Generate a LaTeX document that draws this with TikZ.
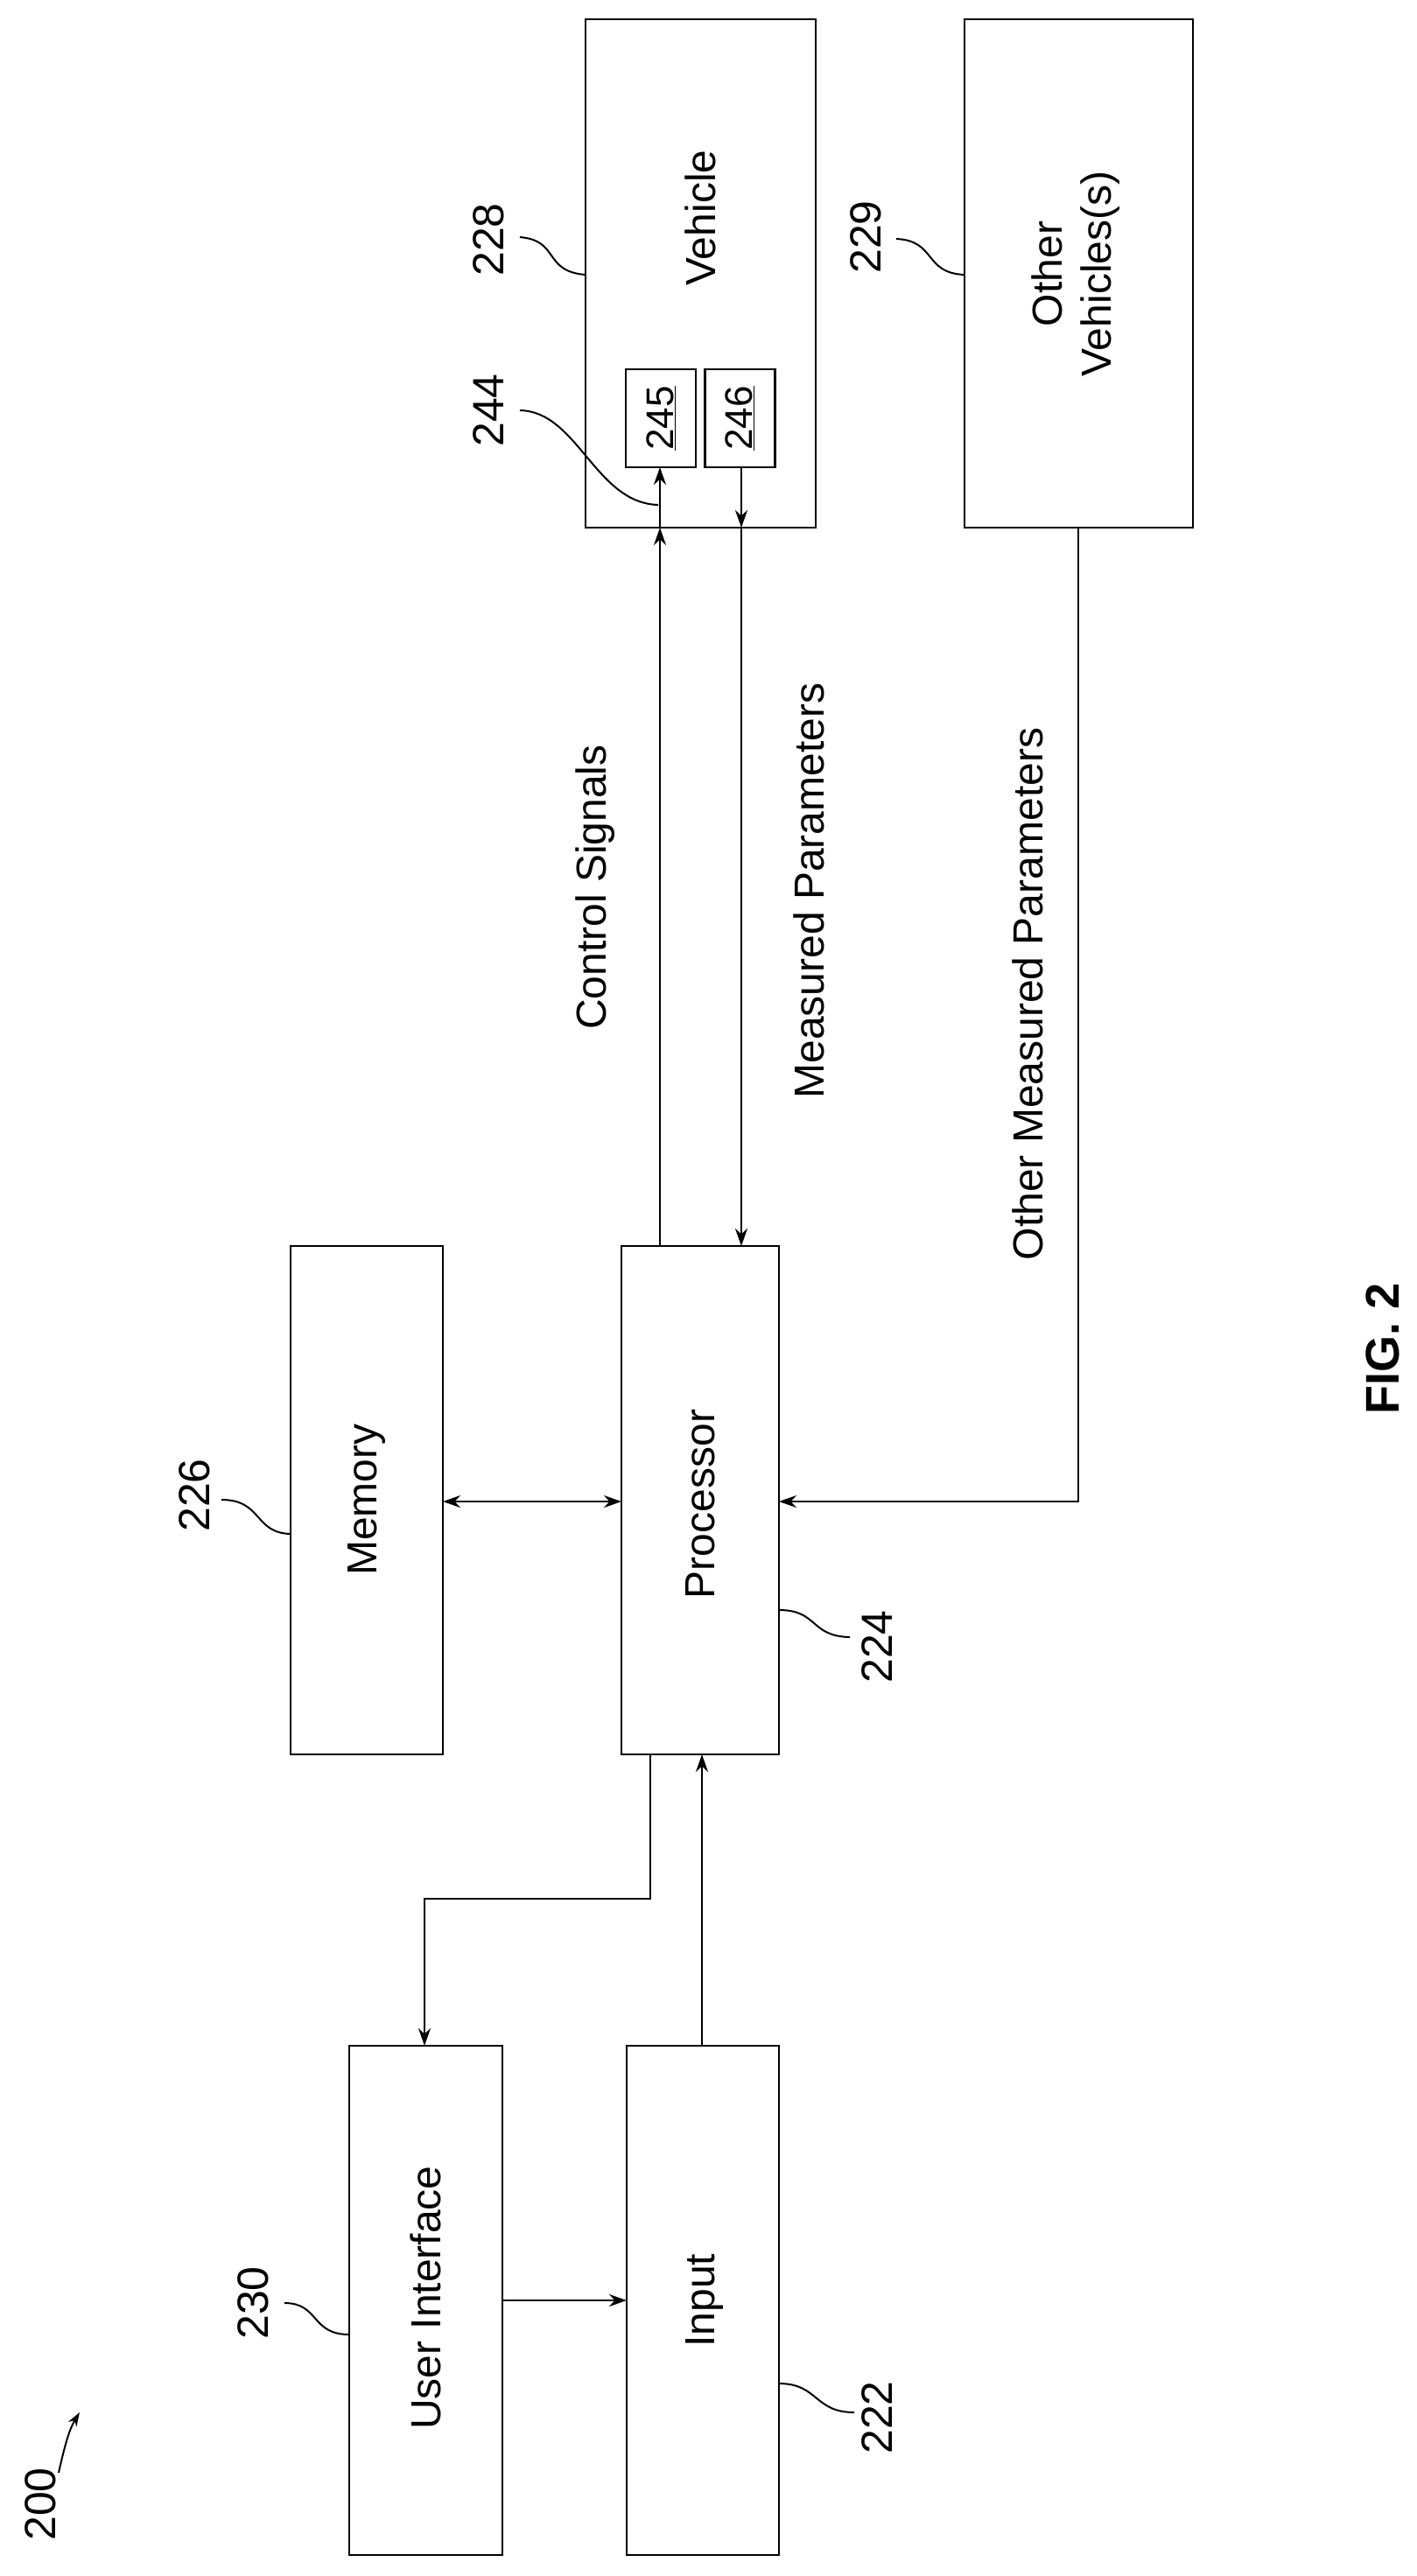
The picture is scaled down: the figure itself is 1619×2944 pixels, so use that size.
\documentclass[tikz,border=0pt]{standalone}
\usepackage{fontspec}
\setmainfont{Liberation Sans}
\usetikzlibrary{arrows.meta}
\begin{document}
\begin{tikzpicture}[x=1pt,y=-1pt,
  box/.style={draw,line width=2.5pt,inner sep=0pt,anchor=center},
  txt/.style={rotate=90,font=\fontsize{48}{56}\selectfont,align=center,inner sep=0pt},
  num/.style={rotate=90,font=\fontsize{50}{56}\selectfont,inner sep=0pt},
  ln/.style={line width=2.5pt},
  ar/.style={ln,-{Stealth[length=20pt,width=14pt]}},
  lead/.style={line width=2pt}]
\useasboundingbox (0,0) rectangle (1619,2944);
% boxes
\node[box,minimum width=263pt,minimum height=581pt] (veh) at (800.5,312.5) {};
\node[box,minimum width=261pt,minimum height=581pt] (oth) at (1232.5,312.5) {};
\node[box,minimum width=80pt,minimum height=112pt] (b245) at (755,478) {};
\node[box,minimum width=80pt,minimum height=112pt] (b246) at (845.5,478) {};
\node[box,minimum width=180pt,minimum height=581pt] (proc) at (800,1714.5) {};
\node[box,minimum width=174pt,minimum height=581pt] (mem) at (419,1714.5) {};
\node[box,minimum width=175pt,minimum height=582pt] (ui) at (486.5,2629) {};
\node[box,minimum width=174pt,minimum height=582pt] (inp) at (803,2629) {};
% box texts
\node[txt] (tveh) at (800,249) {Vehicle};
\node[txt] (toth) at (1229,313) {Other\\Vehicles(s)};
\node[txt,font=\fontsize{44}{50}\selectfont] (t245) at (755,478) {\underline{245}};
\node[txt,font=\fontsize{44}{50}\selectfont] (t246) at (845.5,478) {\underline{246}};
\node[txt] (tproc) at (800,1719) {Processor};
\node[txt] (tmem) at (419,1714) {Memory};
\node[txt] (tui) at (486.5,2626) {User Interface};
\node[txt] (tinp) at (805,2629) {Input};
% connector labels
\node[txt] (lcs) at (680,1014) {Control Signals};
\node[txt] (lmp) at (924,1018) {Measured Parameters};
\node[txt] (lomp) at (1174,1136) {Other Measured Parameters};
\node[num,font=\bfseries\fontsize{54}{60}\selectfont] (fig) at (1580,1541) {FIG. 2};
% coordinates
\coordinate (cs0) at (754,1424);
\coordinate (cs1) at (754,603);
\coordinate (cs2) at (754,534);
\coordinate (mp0) at (847,534);
\coordinate (mp1) at (847,603);
\coordinate (mp2) at (847,1424);
\coordinate (o0) at (1232,603);
\coordinate (o1) at (1232,1716);
\coordinate (o2) at (890,1716);
\coordinate (m0) at (506,1716);
\coordinate (m1) at (710,1716);
\coordinate (p0) at (743,2005);
\coordinate (p1) at (743,2170);
\coordinate (p2) at (485,2170);
\coordinate (p3) at (485,2338);
\coordinate (i0) at (802,2338);
\coordinate (i1) at (802,2005);
\coordinate (u0) at (574,2629);
\coordinate (u1) at (716,2629);
% connectors
\draw[ar] (cs0) -- (cs1);
\draw[ar] (cs1) -- (cs2);
\draw[ar] (mp0) -- (mp1);
\draw[ar] (mp1) -- (mp2);
\draw[ar] (o0) -- (o1) -- (o2);
\draw[ln,{Stealth[length=20pt,width=14pt]}-{Stealth[length=20pt,width=14pt]}] (m0) -- (m1);
\draw[ar] (p0) -- (p1) -- (p2) -- (p3);
\draw[ar] (i0) -- (i1);
\draw[ar] (u0) -- (u1);
% reference numerals
\node[num] (n228) at (558,274) {228};
\node[num] (n244) at (558,469) {244};
\node[num] (n229) at (989,271) {229};
\node[num] (n226) at (222,1709) {226};
\node[num] (n224) at (1002,1882) {224};
\node[num] (n230) at (289,2632) {230};
\node[num] (n222) at (1002,2763) {222};
\node[num] (n200) at (46,2862) {200};
\coordinate (l228a) at (594,271); \coordinate (l228b) at (669,314);
\coordinate (l244a) at (594,469); \coordinate (l244b) at (752,577);
\coordinate (l229a) at (1024,273); \coordinate (l229b) at (1102,314);
\coordinate (l226a) at (253,1714); \coordinate (l226b) at (332,1753);
\coordinate (l224a) at (890,1840); \coordinate (l224b) at (971,1871);
\coordinate (l230a) at (325,2632); \coordinate (l230b) at (399,2668);
\coordinate (l222a) at (890,2724); \coordinate (l222b) at (976,2757);
\coordinate (l200a) at (67,2826); \coordinate (l200b) at (91,2757);
\draw[lead] (l228a) .. controls (640,275) and (620,310) .. (l228b);
\draw[lead] (l244a) .. controls (660,470) and (680,575) .. (l244b);
\draw[lead] (l229a) .. controls (1070,275) and (1055,312) .. (l229b);
\draw[lead] (l226a) .. controls (300,1714) and (290,1752) .. (l226b);
\draw[lead] (l224a) .. controls (935,1840) and (925,1870) .. (l224b);
\draw[lead] (l230a) .. controls (365,2632) and (355,2668) .. (l230b);
\draw[lead] (l222a) .. controls (935,2724) and (930,2757) .. (l222b);
\draw[lead,-{Stealth[length=16pt,width=11pt]}] (l200a) .. controls (75,2790) and (80,2775) .. (l200b);
\end{tikzpicture}
\end{document}
